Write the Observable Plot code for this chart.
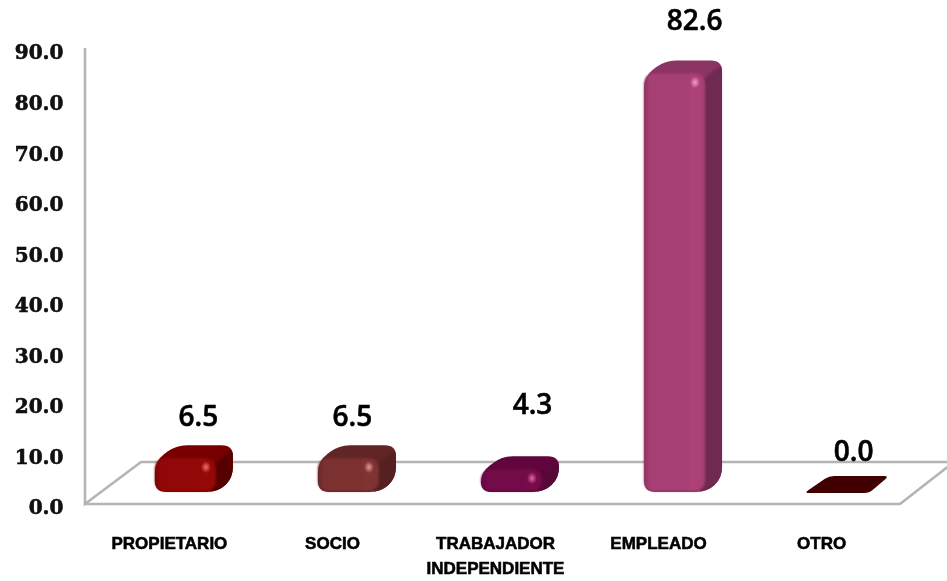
<!DOCTYPE html>
<html><head><meta charset="utf-8">
<script src="https://cdn.jsdelivr.net/npm/d3@7"></script>
<script src="https://cdn.jsdelivr.net/npm/@observablehq/plot@0.6"></script>
<style>html,body{margin:0;padding:0;background:#fff;overflow:hidden}svg{display:block;filter:blur(.4px)}
svg text{stroke:#000;stroke-width:.55px}
.face rect{filter:blur(1.3px)}</style>
</head><body><div id="chart"></div>
<script>
const categories = ["PROPIETARIO", "SOCIO", "TRABAJADOR\nINDEPENDIENTE", "EMPLEADO", "OTRO"];
const values = [6.5, 6.5, 4.3, 82.6, 0.0];
const yTicks = [0, 10, 20, 30, 40, 50, 60, 70, 80, 90];
const frontColors = ["#920808", "#7c3131", "#730b49", "#a63f73", "#400000"];
const edgeColors  = ["#7a0404", "#682828", "#640741", "#8e3562", "#400000"];
const topColors   = ["#780000", "#622525", "#62053c", "#8c3463", "#400000"];
const sideColors  = ["#560000", "#552020", "#570838", "#6e2a50", "#400000"];
const glintColors = ["#ff7a7a", "#f0a0a0", "#f070b0", "#ffa8d0", "#400000"];
const labelDx = [13, 4, 21, 20, 16];
const labelDy = [-46, -46, -69, -57, -44];

const rows = categories.map((name, i) => ({name, value: values[i], i}));
const depthX = 18, depthY = 13;

function roundedPoly(pts, r) {
  const n = pts.length; let d = "";
  pts.forEach((p, k) => {
    const a = pts[(k + n - 1) % n], b = pts[(k + 1) % n];
    const la = Math.hypot(a[0]-p[0], a[1]-p[1]), lb = Math.hypot(b[0]-p[0], b[1]-p[1]);
    const ra = Math.min(r, la/2), rb = Math.min(r, lb/2);
    const s = [p[0]+(a[0]-p[0])*ra/la, p[1]+(a[1]-p[1])*ra/la];
    const e = [p[0]+(b[0]-p[0])*rb/lb, p[1]+(b[1]-p[1])*rb/lb];
    d += `${k ? "L" : "M"}${s[0]},${s[1]}Q${p[0]},${p[1]} ${e[0]},${e[1]}`;
  });
  return d + "Z";
}

// Floor and wall of the 3-D box, placed from the y scale
function floorMark(index, {y}) {
  const g = d3.create("svg:g").attr("fill", "none").attr("stroke", "#b4b4b4").attr("stroke-width", 2.6);
  const y0 = y(0), back = y0 - 42;
  g.append("path").attr("d", `M85,${y(90)-1}V${y0}L141,${back}H960`);
  g.append("path").attr("d", `M85,${y0}H900L954,${back}`);
  return g.node();
}

// Gradients plus the top and side faces of each bar, placed from the x and y scales
function depthMark(index, {x, y}) {
  const g = d3.create("svg:g");
  const defs = g.append("defs");
  const bw = x.bandwidth();
  rows.forEach(d => {
    const lg = defs.append("linearGradient").attr("id", `front${d.i}`);
    [[0, edgeColors[d.i]], [.1, frontColors[d.i]], [.7, frontColors[d.i]], [.8, d3.color(frontColors[d.i]).brighter(.14)], [1, frontColors[d.i]]]
      .forEach(([o, c]) => lg.append("stop").attr("offset", o).attr("stop-color", c));
    const x0 = x(d.name), x1 = x0 + bw;
    const yb = y(0) - depthY, yt = y(d.value) - depthY;
    if (d.value === 0) {
      g.append("path").attr("fill", topColors[d.i])
        .attr("d", roundedPoly([[x0-3, yb+2], [x0+22, yb-15], [x1+22, yb-15], [x1+2, yb+2]], 5));
      return;
    }
    const hull = roundedPoly([[x0, yt+3], [x0+depthX+3, yt-depthY], [x1+depthX, yt-depthY], [x1+depthX, yb-depthY], [x1+3, yb+1], [x0, yb+1]], 11);
    defs.append("clipPath").attr("id", `hull${d.i}`).append("path").attr("d", hull);
    g.append("path").attr("fill", topColors[d.i]).attr("d", hull);
    g.append("g").attr("clip-path", `url(#hull${d.i})`)
      .append("path").attr("fill", sideColors[d.i]).style("filter", "blur(1.5px)")
      .attr("d", roundedPoly([[x1-4, yt+10], [x1+5, yt+1], [x1+depthX+4, yt-depthY+2], [x1+depthX+4, yb+4], [x1-4, yb+4]], 6));
  });
  return g.node();
}

// Small glint on the rounded front corner
function glintMark(index, {x, y}) {
  const g = d3.create("svg:g");
  const defs = g.append("defs");
  rows.filter(d => d.value > 0).forEach(d => {
    const rg = defs.append("radialGradient").attr("id", `glint${d.i}`);
    rg.append("stop").attr("offset", 0).attr("stop-color", glintColors[d.i]).attr("stop-opacity", .9);
    rg.append("stop").attr("offset", 1).attr("stop-color", glintColors[d.i]).attr("stop-opacity", 0);
    g.append("ellipse").attr("cx", x(d.name) + x.bandwidth() - 9).attr("cy", y(d.value) - depthY + 9)
      .attr("rx", 5).attr("ry", 6).attr("fill", `url(#glint${d.i})`);
  });
  return g.node();
}

const chart = Plot.plot({
  width: 947, height: 581,
  marginLeft: 85, marginRight: 0, marginTop: 49, marginBottom: 77,
  x: {domain: categories, range: [106, 916], paddingInner: 0.632, paddingOuter: 0.3, round: false, label: null},
  y: {domain: [0, 90], range: [504, 49], label: null},
  marks: [
    floorMark,
    depthMark,
    ...rows.filter(d => d.value > 0).map(d =>
      Plot.barY([d], {x: "name", y: "value", fill: `url(#front${d.i})`, rx: 10, dy: -depthY, insetRight: -1, className: "face"})),
    glintMark,
    ...rows.map(d => Plot.text([d], {
      x: "name", y: "value", text: v => v.value.toFixed(1),
      dx: labelDx[d.i], dy: labelDy[d.i], lineAnchor: "bottom",
      fontFamily: "'Open Sans'", fontWeight: 600, fontSize: 28, fill: "#000"
    })),
    Plot.axisY({ticks: yTicks, tickFormat: v => v.toFixed(1), tickSize: 0, tickPadding: 22, dy: 3.5,
      fontFamily: "'DejaVu Serif'", fontWeight: 700, fontSize: 20, fill: "#111"}),
    Plot.axisX({tickSize: 0, tickPadding: 27, dx: -16, lineHeight: 1.47, label: null, textAnchor: "middle",
      fontFamily: "'Liberation Sans'", fontWeight: 700, fontSize: 17, fill: "#000"})
  ]
});
document.getElementById("chart").append(chart);
</script></body></html>
